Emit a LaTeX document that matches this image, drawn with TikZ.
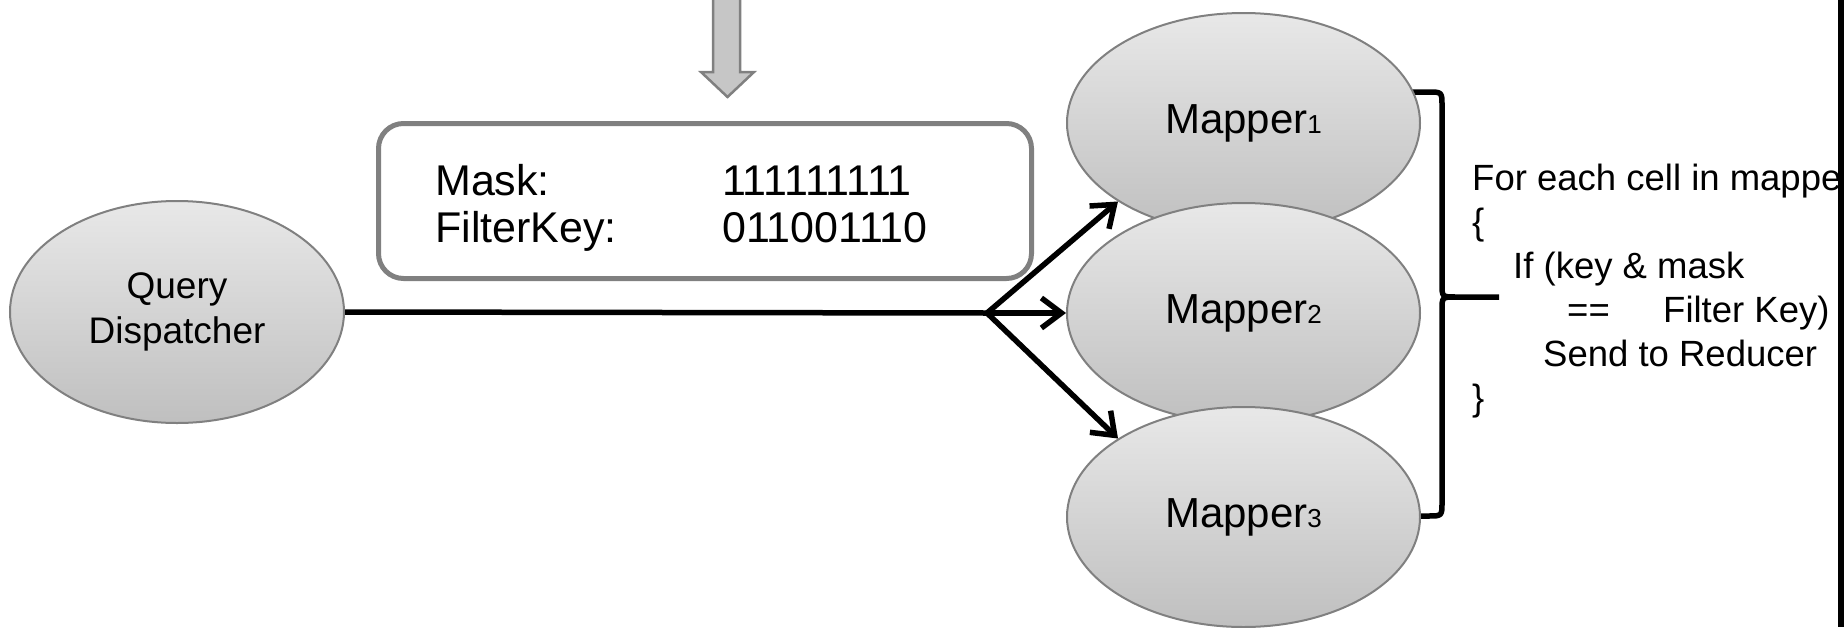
\documentclass[tikz,border=0pt]{standalone}
\usepackage{fontspec}
\setmainfont{Liberation Sans}
\usetikzlibrary{positioning,calc,shapes.geometric,arrows.meta}

\newcommand{\mnum}[1]{{\fontsize{26}{26}\selectfont #1}}

\begin{document}
\begin{tikzpicture}[x=1pt,y=-1pt,
				oval/.style={ellipse,draw=gray,line width=2pt,top color=gray!18,bottom color=gray!50,
					inner sep=0pt,align=center,font=\fontsize{37}{45}\selectfont},
				mapper/.style={oval,minimum width=353pt,minimum height=220pt,font=\fontsize{42}{50}\selectfont},
				flow/.style={line width=5.5pt},
				tip/.style={-{Straight Barb[length=20pt,width=30pt]}},
				filterbox/.style={draw=gray,line width=5pt,rounded corners=25pt,minimum width=653pt,minimum height=155pt}]
				\useasboundingbox (0,0) rectangle (1844,627);

				% input arrow from above
				\draw[line width=2.5pt,draw=gray,fill=gray!45] (713,-5) -- (713,72) -- (701,72) -- (727.5,97)
					-- (754,72) -- (740,72) -- (740,-5) -- cycle;

				\node (FILTER) [filterbox] at (705,201) {};
				\node (MASK)   [anchor=west,inner sep=0pt,align=left,font=\fontsize{43}{47}\selectfont] at (435,207.5)
					{\makebox[287pt][l]{Mask:}111111111\\\makebox[287pt][l]{FilterKey:}011001110};

				% brace behind the mappers
				\draw[line width=5.5pt,line join=round] (1405,92) -- (1428,92) .. controls (1442,92) .. (1442,106)
					-- (1442,284) .. controls (1442,297) .. (1456,297) -- (1499,297)
					(1456,297) .. controls (1442,297) .. (1442,310) -- (1442,502)
					.. controls (1442,516) .. (1428,516) -- (1405,516);

				\node (QD) [oval,minimum width=334pt,minimum height=222pt] at (177,312) {Query\\Dispatcher};
				\node (M1) [mapper] at (1243.5,123) {Mapper\mnum{1}};
				\node (M2) [mapper] at (1243.5,313) {Mapper\mnum{2}};
				\node (M3) [mapper] at (1243.5,517) {Mapper\mnum{3}};

				\coordinate (FORK) at (987,313);
				\draw[flow]     (QD.east) -- (FORK);
				\draw[flow,tip] (FORK) -- (M1.south west);
				\draw[flow,tip] (FORK) -- (M2.west);
				\draw[flow,tip] (FORK) -- (M3.north west);

				\node (CODE) [anchor=west,inner sep=0pt,align=left,font=\fontsize{36.5}{44}\selectfont] at (1472,291.5)
					{For each cell in mapper\\
					\{\\
					\hspace*{41pt}If (key \& mask\\
					\hspace*{95pt}\makebox[96pt][l]{==}Filter Key)\\
					\hspace*{71pt}Send to Reducer\\
					\}};

				\fill[black] (1838,0) rectangle (1844,627);
			\end{tikzpicture}
\end{document}
